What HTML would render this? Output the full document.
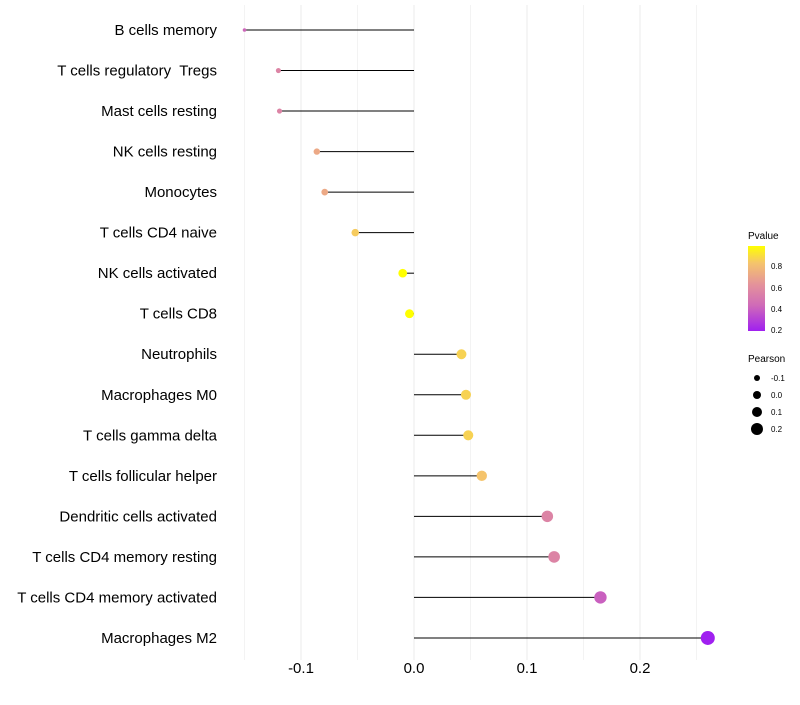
<!DOCTYPE html>
<html><head><meta charset="utf-8"><style>
body{margin:0;background:#fff;}
svg{font-family:"Liberation Sans",sans-serif;}
text{white-space:pre;}
</style></head><body>
<svg id="chart" width="800" height="700">
<defs><linearGradient id="pg" x1="0" y1="1" x2="0" y2="0">
<stop offset="0" stop-color="#a020f0"/><stop offset="0.3" stop-color="#cf6ab8"/><stop offset="0.55" stop-color="#e4939a"/><stop offset="0.8" stop-color="#f5c46c"/><stop offset="1" stop-color="#ffff00"/></linearGradient></defs>
<g id="grid"></g><g id="marks"></g><g id="labels"></g>
<g>
<text x="748" y="239" font-size="10">Pvalue</text>
<rect x="748" y="246" width="17" height="85" fill="url(#pg)"/>
<text x="771" y="269" font-size="8">0.8</text>
<text x="771" y="291" font-size="8">0.6</text>
<text x="771" y="312" font-size="8">0.4</text>
<text x="771" y="333" font-size="8">0.2</text>
</g>
<g>
<text x="748" y="362" font-size="10">Pearson</text>
<circle cx="757" cy="378" r="3" fill="#000"/><text x="771" y="381" font-size="8">-0.1</text>
<circle cx="757" cy="395" r="4" fill="#000"/><text x="771" y="398" font-size="8">0.0</text>
<circle cx="757" cy="412" r="5" fill="#000"/><text x="771" y="415" font-size="8">0.1</text>
<circle cx="757" cy="429" r="6" fill="#000"/><text x="771" y="432" font-size="8">0.2</text>
</g>
</svg>
<script>
const categories=["B cells memory","T cells regulatory  Tregs","Mast cells resting","NK cells resting","Monocytes","T cells CD4 naive","NK cells activated","T cells CD8","Neutrophils","Macrophages M0","T cells gamma delta","T cells follicular helper","Dendritic cells activated","T cells CD4 memory resting","T cells CD4 memory activated","Macrophages M2"];
const pearson=[-0.150,-0.120,-0.119,-0.086,-0.079,-0.052,-0.010,-0.004,0.042,0.046,0.048,0.060,0.118,0.124,0.165,0.260];
const pvalues=[0.42,0.55,0.55,0.70,0.70,0.82,0.97,0.97,0.84,0.84,0.84,0.80,0.55,0.55,0.40,0.20];
const ticks=[-0.1,0.0,0.1,0.2];
const ns="http://www.w3.org/2000/svg";
const xs=v=>414+v*1130;
const ys=i=>30+i*40.53;
const rs=v=>Math.sqrt(Math.max(1,20+112*v));
function col(p){
  const st=[[0.2,[160,32,240]],[0.43,[207,106,184]],[0.62,[228,147,154]],[0.8,[245,196,108]],[0.97,[255,255,0]]];
  if(p<=st[0][0])return "rgb("+st[0][1]+")";
  for(let k=1;k<st.length;k++){if(p<=st[k][0]){const t=(p-st[k-1][0])/(st[k][0]-st[k-1][0]);const a=st[k-1][1],b=st[k][1];return "rgb("+a.map((x,j)=>Math.round(x+(b[j]-x)*t)).join(",")+")";}}
  return "rgb(255,255,0)";
}
function mk(tag,attrs,parent){const e=document.createElementNS(ns,tag);for(const k in attrs)e.setAttribute(k,attrs[k]);parent.appendChild(e);return e;}
const grid=document.getElementById("grid"),marks=document.getElementById("marks"),labels=document.getElementById("labels");
for(let g=-0.15;g<=0.26;g+=0.05){
  const l=mk("line",{x1:xs(g),x2:xs(g),y1:5,y2:660,stroke:"#ebebeb","stroke-width":Math.abs(Math.round(g*20))%2===0?1:0.6},grid);
  
  
}
ticks.forEach(t=>{
  const e=mk("text",{x:xs(t),y:673,"font-size":15,"text-anchor":"middle",fill:"#000"},labels);
  e.textContent=t.toFixed(1);
  
  
});
categories.forEach((c,i)=>{
  const y=ys(i);
  const t=mk("text",{x:217,y:y+5,"font-size":15,"text-anchor":"end",fill:"#000"},labels);
  t.textContent=c;
  
  
  const s=mk("line",{x1:xs(0),x2:xs(pearson[i]),y1:y,y2:y,stroke:"#000","stroke-width":1},marks);
  
  
  const d=mk("circle",{cx:xs(pearson[i]),cy:y,r:rs(pearson[i]),fill:col(pvalues[i])},marks);
  
  
});
</script>
</body></html>
